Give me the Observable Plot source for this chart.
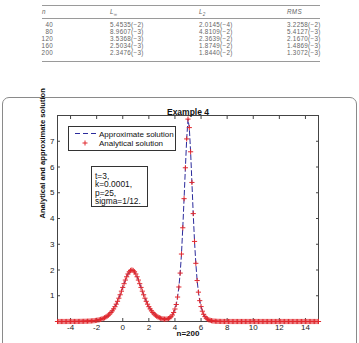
<!DOCTYPE html>
<html>
<head>
<meta charset="utf-8">
<script src="https://cdn.jsdelivr.net/npm/d3@7"></script>
<script src="https://cdn.jsdelivr.net/npm/@observablehq/plot@0.6"></script>
<style>
  html, body { margin: 0; padding: 0; background: #fff; }
  #page { position: relative; width: 359px; height: 343px; overflow: hidden; }
  .rule { position: absolute; left: 42px; width: 278px; background: #9a9a9a; }
  .cell { position: absolute; font-family: "Liberation Sans", Arial, sans-serif; font-size: 6.3px; line-height: 6.6px;
          letter-spacing: 0.3px; color: #666; white-space: nowrap; }
  .head { font-style: italic; }
  .num { text-align: right; width: 24px; }
  #figframe { position: absolute; left: 2px; top: 97px; width: 355px; height: 280px;
              border: 1px solid #8a8a8a; border-radius: 7px; box-sizing: border-box; }
  #chart { position: absolute; left: 0; top: 97px; }
  .box { position: absolute; background: #fff; border: 1px solid #333; box-sizing: border-box;
         font-family: "Liberation Sans", Arial, sans-serif; color: #111; }
  .boxtext { position: absolute; white-space: nowrap; }
</style>
</head>
<body>
<div id="page">
  <div id="figframe"></div>
  <div id="chart"></div>
</div>
<script>
// Error table for Example 4
const nValues = ["40", "80", "120", "160", "200"];
const errInf = ["5.4535(\u22122)", "8.9607(\u22123)", "3.5368(\u22123)", "2.5034(\u22123)", "2.3476(\u22123)"];
const errL2 = ["2.0145(\u22124)", "4.8109(\u22122)", "2.3639(\u22122)", "1.8749(\u22122)", "1.8440(\u22122)"];
const errRMS = ["3.2258(\u22122)", "5.4127(\u22123)", "2.1670(\u22123)", "1.4869(\u22123)", "1.3072(\u22123)"];

// Mesh: n = 200 intervals on [-5, 15]
const xStart = -5, xEnd = 15, nIntervals = 200;

// Solution values at t = 3 on the mesh (rows of ten, x = -5.0 ... 15.0)
const u = [
  0, 0, 0, 0, 0, 0, 0, 0.001, 0.001, 0.001,
  0.001, 0.001, 0.002, 0.002, 0.002, 0.003, 0.003, 0.004, 0.005, 0.006,
  0.007, 0.009, 0.010, 0.013, 0.015, 0.018, 0.022, 0.027, 0.032, 0.039,
  0.047, 0.056, 0.068, 0.082, 0.099, 0.119, 0.143, 0.171, 0.205, 0.245,
  0.293, 0.349, 0.414, 0.489, 0.575, 0.673, 0.784, 0.905, 1.038, 1.178,
  1.324, 1.469, 1.609, 1.737, 1.846, 1.929, 1.982, 2.000, 1.982, 1.929,
  1.846, 1.737, 1.609, 1.469, 1.324, 1.178, 1.038, 0.905, 0.784, 0.673,
  0.575, 0.489, 0.414, 0.349, 0.293, 0.246, 0.207, 0.175, 0.149, 0.127,
  0.111, 0.099, 0.093, 0.092, 0.099, 0.114, 0.142, 0.187, 0.252, 0.348,
  0.485, 0.66, 0.95, 1.34, 1.88, 2.62, 3.64, 4.77, 5.97, 7.09,
  7.86, 7.53, 6.59, 5.40, 4.19, 3.11, 2.26, 1.59, 1.14, 0.81,
  0.58, 0.40, 0.28, 0.19, 0.13, 0.09, 0.065, 0.045, 0.032, 0.022,
  0.016, 0.011, 0.008, 0.005, 0.004, 0.003, 0.002, 0.001, 0.001, 0,
  0, 0, 0, 0, 0, 0, 0, 0, 0, 0,
  0, 0, 0, 0, 0, 0, 0, 0, 0, 0,
  0, 0, 0, 0, 0, 0, 0, 0, 0, 0,
  0, 0, 0, 0, 0, 0, 0, 0, 0, 0,
  0, 0, 0, 0, 0, 0, 0, 0, 0, 0,
  0, 0, 0, 0, 0, 0, 0, 0, 0, 0,
  0, 0, 0, 0, 0, 0, 0, 0, 0, 0,
  0
];

const xTicks = [-4, -2, 0, 2, 4, 6, 8, 10, 12, 14];
const yTicks = [1, 2, 3, 4, 5, 6, 7];

const titleText = "Example 4";
const xLabelText = "n=200";
const yLabelText = "Analytical and approximate solution";
const legendLabels = ["Approximate solution", "Analytical solution"];
const paramLines = ["t=3,", "k=0.0001,", "p=25,", "sigma=1/12."];

const approxColor = "#2b2b9c";
const exactColor = "#e0282e";
const axisColor = "#444";

const page = document.getElementById("page");

// ---- table ----
function addRule(top, h) {
  const r = document.createElement("div");
  r.className = "rule";
  r.style.top = top + "px";
  r.style.height = h + "px";
  page.appendChild(r);
}
function addCell(html, left, centerY, cls) {
  const c = document.createElement("div");
  c.className = "cell " + (cls || "");
  c.innerHTML = html;
  c.style.left = left + "px";
  c.style.top = (centerY - 3.3) + "px";
  page.appendChild(c);
  return c;
}
addRule(4.5, 1.2);
addRule(17.5, 0.6);
addRule(61, 1);
addCell("n", 42, 12, "head");
addCell("L<span style='font-size:4.5px;vertical-align:-1.5px'>\u221e</span>", 110, 12, "head");
addCell("L<span style='font-size:4.5px;vertical-align:-1.5px'>2</span>", 199, 12, "head");
addCell("RMS", 287, 12, "head");
nValues.forEach((n, i) => {
  const cy = 25 + i * 7.1;
  addCell(n, 29, cy, "num");
  addCell(errInf[i], 110, cy);
  addCell(errL2[i], 199, cy);
  addCell(errRMS[i], 287, cy);
});

// ---- chart ----
const h = (xEnd - xStart) / nIntervals;
const points = u.map((v, i) => ({x: xStart + i * h, u: v}));

const chart = Plot.plot({
  width: 359,
  height: 246,
  marginLeft: 57,
  marginRight: 41,
  marginTop: 18,
  marginBottom: 22,
  x: {domain: [xStart, xEnd]},
  y: {domain: [0, 8]},
  style: {fontFamily: "'Liberation Sans', Arial, sans-serif", fontSize: "8px", color: "#222", background: "transparent", overflow: "visible"},
  marks: [
    Plot.frame({stroke: axisColor}),
    // inward tick marks on all four sides
    Plot.axisX({ticks: xTicks, anchor: "bottom", tickSize: -3, tickFormat: () => "", label: null, stroke: axisColor}),
    Plot.axisX({ticks: xTicks, anchor: "top", tickSize: -3, tickFormat: () => "", label: null, stroke: axisColor}),
    Plot.axisY({ticks: yTicks, anchor: "left", tickSize: -3, tickFormat: () => "", label: null, stroke: axisColor}),
    Plot.axisY({ticks: yTicks, anchor: "right", tickSize: -3, tickFormat: () => "", label: null, stroke: axisColor}),
    // tick labels
    Plot.axisX({ticks: xTicks, anchor: "bottom", tickSize: 0, tickPadding: 3, tickFormat: d => String(d), label: null}),
    Plot.axisY({ticks: yTicks, anchor: "left", tickSize: 0, tickPadding: 3, tickFormat: d => String(d), label: null}),
    Plot.line(points, {x: "x", y: "u", stroke: approxColor, strokeWidth: 1, strokeDasharray: "5,3"}),
    Plot.dot(points, {x: "x", y: "u", symbol: "plus", r: 1.8, stroke: exactColor, strokeWidth: 1}),
    Plot.text([titleText], {frameAnchor: "top", dy: -7, fontWeight: "bold", fontSize: 8.5, fill: "#111"}),
    Plot.text([xLabelText], {frameAnchor: "bottom", dy: 14, fontWeight: "bold", fontSize: 8, fill: "#111"}),
    Plot.text([yLabelText], {frameAnchor: "left", dx: -15, rotate: -90, fontWeight: "bold", fontSize: 7.6, fill: "#111"})
  ]
});
document.getElementById("chart").appendChild(chart);

// ---- legend ----
const legend = document.createElement("div");
legend.className = "box";
Object.assign(legend.style, {left: "68px", top: "126px", width: "108px", height: "25px"});
legend.innerHTML = `
  <svg width="108" height="25" style="position:absolute;left:-1px;top:-1px">
    <line x1="7" x2="29" y1="7.5" y2="7.5" stroke="${approxColor}" stroke-width="1" stroke-dasharray="5,3"/>
    <path d="M14.5,17 h5 M17,14.5 v5" stroke="${exactColor}" stroke-width="1" fill="none"/>
  </svg>`;
legendLabels.forEach((t, i) => {
  const s = document.createElement("div");
  s.className = "boxtext";
  s.textContent = t;
  Object.assign(s.style, {left: "30px", top: (2.5 + i * 9.5) + "px", fontSize: "8px", lineHeight: "9px"});
  legend.appendChild(s);
});
page.appendChild(legend);

// ---- parameter box ----
const params = document.createElement("div");
params.className = "box";
Object.assign(params.style, {left: "91px", top: "166px", width: "57px", height: "41px"});
paramLines.forEach((t, i) => {
  const s = document.createElement("div");
  s.className = "boxtext";
  s.textContent = t;
  Object.assign(s.style, {left: "3px", top: (4.5 + i * 8.6) + "px", fontSize: "8.4px", lineHeight: "9px"});
  params.appendChild(s);
});
page.appendChild(params);
</script>
</body>
</html>
